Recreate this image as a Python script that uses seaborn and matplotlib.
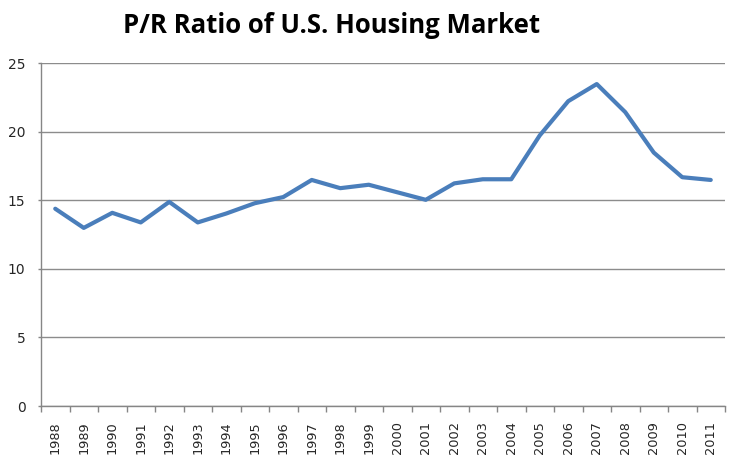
import matplotlib
matplotlib.use("Agg")
import matplotlib.pyplot as plt
import seaborn as sns
import pandas as pd
from matplotlib.ticker import FixedLocator, NullFormatter

years = [str(y) for y in range(1988, 2012)]
pr_ratio = [14.4, 13.0, 14.1, 13.4, 14.9, 13.4, 14.05, 14.8, 15.25, 16.5,
            15.9, 16.15, 15.6, 15.05, 16.25, 16.55, 16.55, 19.75, 22.25, 23.5,
            21.45, 18.5, 16.7, 16.5]
title = "P/R Ratio of U.S. Housing Market"

df = pd.DataFrame({"year": years, "ratio": pr_ratio})

sns.set_theme(style="white")
plt.rcParams['font.family'] = ['DejaVu Sans']

fig = plt.figure(figsize=(7.36, 4.69), dpi=100)
ax = fig.add_axes([41/736, 1 - 406/469, (725-41)/736, (406-63.5)/469])

sns.lineplot(data=df, x="year", y="ratio", ax=ax, color="#4a7ebb",
             linewidth=3, sort=False)

ax.set_ylim(0, 25)
ax.set_xlim(-0.5, len(years) - 0.5)
ax.set_yticks([0, 5, 10, 15, 20, 25])
ax.yaxis.grid(True, color="#8c8c8c", linewidth=1)
ax.xaxis.grid(False)
ax.set_axisbelow(True)
ax.set_xlabel("")
ax.set_ylabel("")

for s in ["top", "right"]:
    ax.spines[s].set_visible(False)
for s in ["left", "bottom"]:
    ax.spines[s].set_visible(True)
    ax.spines[s].set_color("#868686")
    ax.spines[s].set_linewidth(1)

ax.set_xticks(range(len(years)))
ax.set_xticklabels(years, rotation=90, fontsize=9.3, color="#262626")
ax.tick_params(axis="x", which="major", length=0, pad=11)
ax.xaxis.set_minor_locator(FixedLocator([i - 0.5 for i in range(len(years) + 1)]))
ax.xaxis.set_minor_formatter(NullFormatter())
ax.tick_params(axis="x", which="minor", bottom=True, length=4.5, width=1, color="#868686", direction="out")
ax.tick_params(axis="y", which="major", left=True, length=2.2, width=1, color="#868686",
               labelsize=10, labelcolor="#262626", pad=9)

fig.text(0.451, 0.945, title, ha="center", va="center", fontsize=18.5,
         fontweight="bold", family=["Open Sans", "DejaVu Sans"], color="#000000")

fig.savefig("out.png", dpi=100)
